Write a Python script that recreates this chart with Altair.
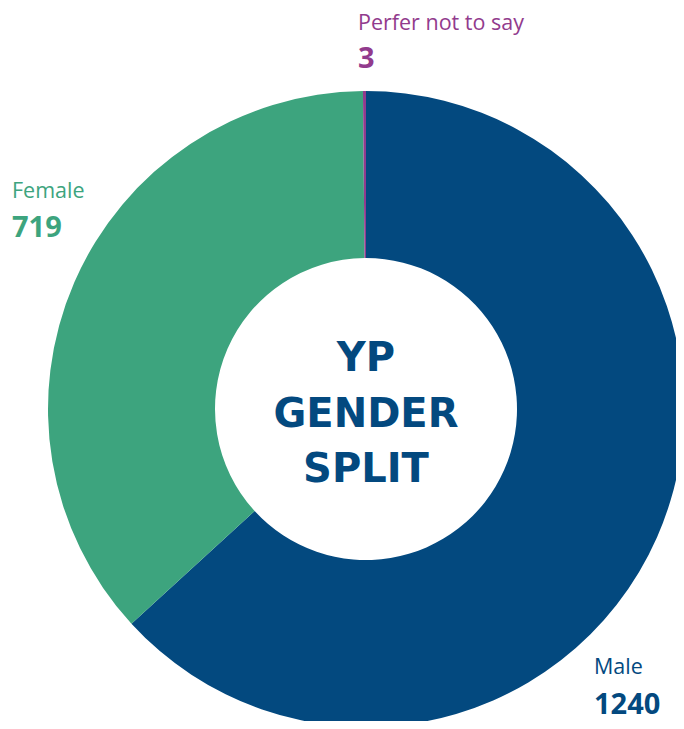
import altair as alt
import pandas as pd

categories = ["Male", "Female", "Perfer not to say"]
counts = [1240, 719, 3]
colors = ["#03497F", "#3DA47E", "#923B8D"]
center_lines = ["YP", "GENDER", "SPLIT"]

df = pd.DataFrame({
    "category": categories,
    "count": counts,
    "order": list(range(len(categories))),
})

FONT = "Open Sans"
CX, CY = 358, 401
W, H = 668, 713

# annotation placement (pixels): name baseline, number baseline
label_pos = {
    "Male": (586, 666, 706),
    "Female": (4, 190, 229),
    "Perfer not to say": (350, 22, 60),
}

color_scale = alt.Scale(domain=categories, range=colors)
base = alt.Chart(df)

donut = base.mark_arc(innerRadius=151, outerRadius=318).encode(
    theta=alt.Theta("count:Q", stack=True),
    color=alt.Color("category:N", scale=color_scale, legend=None),
    order=alt.Order("order:Q"),
    x=alt.value(CX),
    y=alt.value(CY),
)

layers = [donut]
for cat, (lx, ly_name, ly_num) in label_pos.items():
    sub = base.transform_filter(alt.datum.category == cat)
    name = sub.mark_text(align="left", baseline="alphabetic", font=FONT,
                         fontSize=21.5, fontWeight="normal").encode(
        text="category:N",
        color=alt.Color("category:N", scale=color_scale, legend=None),
        x=alt.value(lx), y=alt.value(ly_name),
    )
    num = sub.mark_text(align="left", baseline="alphabetic", font=FONT,
                        fontSize=29, fontWeight="bold").encode(
        text="count:Q",
        color=alt.Color("category:N", scale=color_scale, legend=None),
        x=alt.value(lx), y=alt.value(ly_num),
    )
    layers += [name, num]

center = alt.Chart(pd.DataFrame({"t": [0]})).mark_text(
    align="center", baseline="middle", font="DejaVu Sans", fontSize=40,
    fontWeight="bold", lineHeight=55.5, color=colors[0],
).encode(
    text=alt.value(center_lines),
    x=alt.value(CX), y=alt.value(351),
)
layers.append(center)

chart = alt.layer(*layers).properties(
    width=W, height=H,
    autosize=alt.AutoSizeParams(type="none"),
    padding=0,
    background="white",
).configure_view(stroke=None)

chart.save("out.html", embed_options={"renderer": "svg", "actions": False})
